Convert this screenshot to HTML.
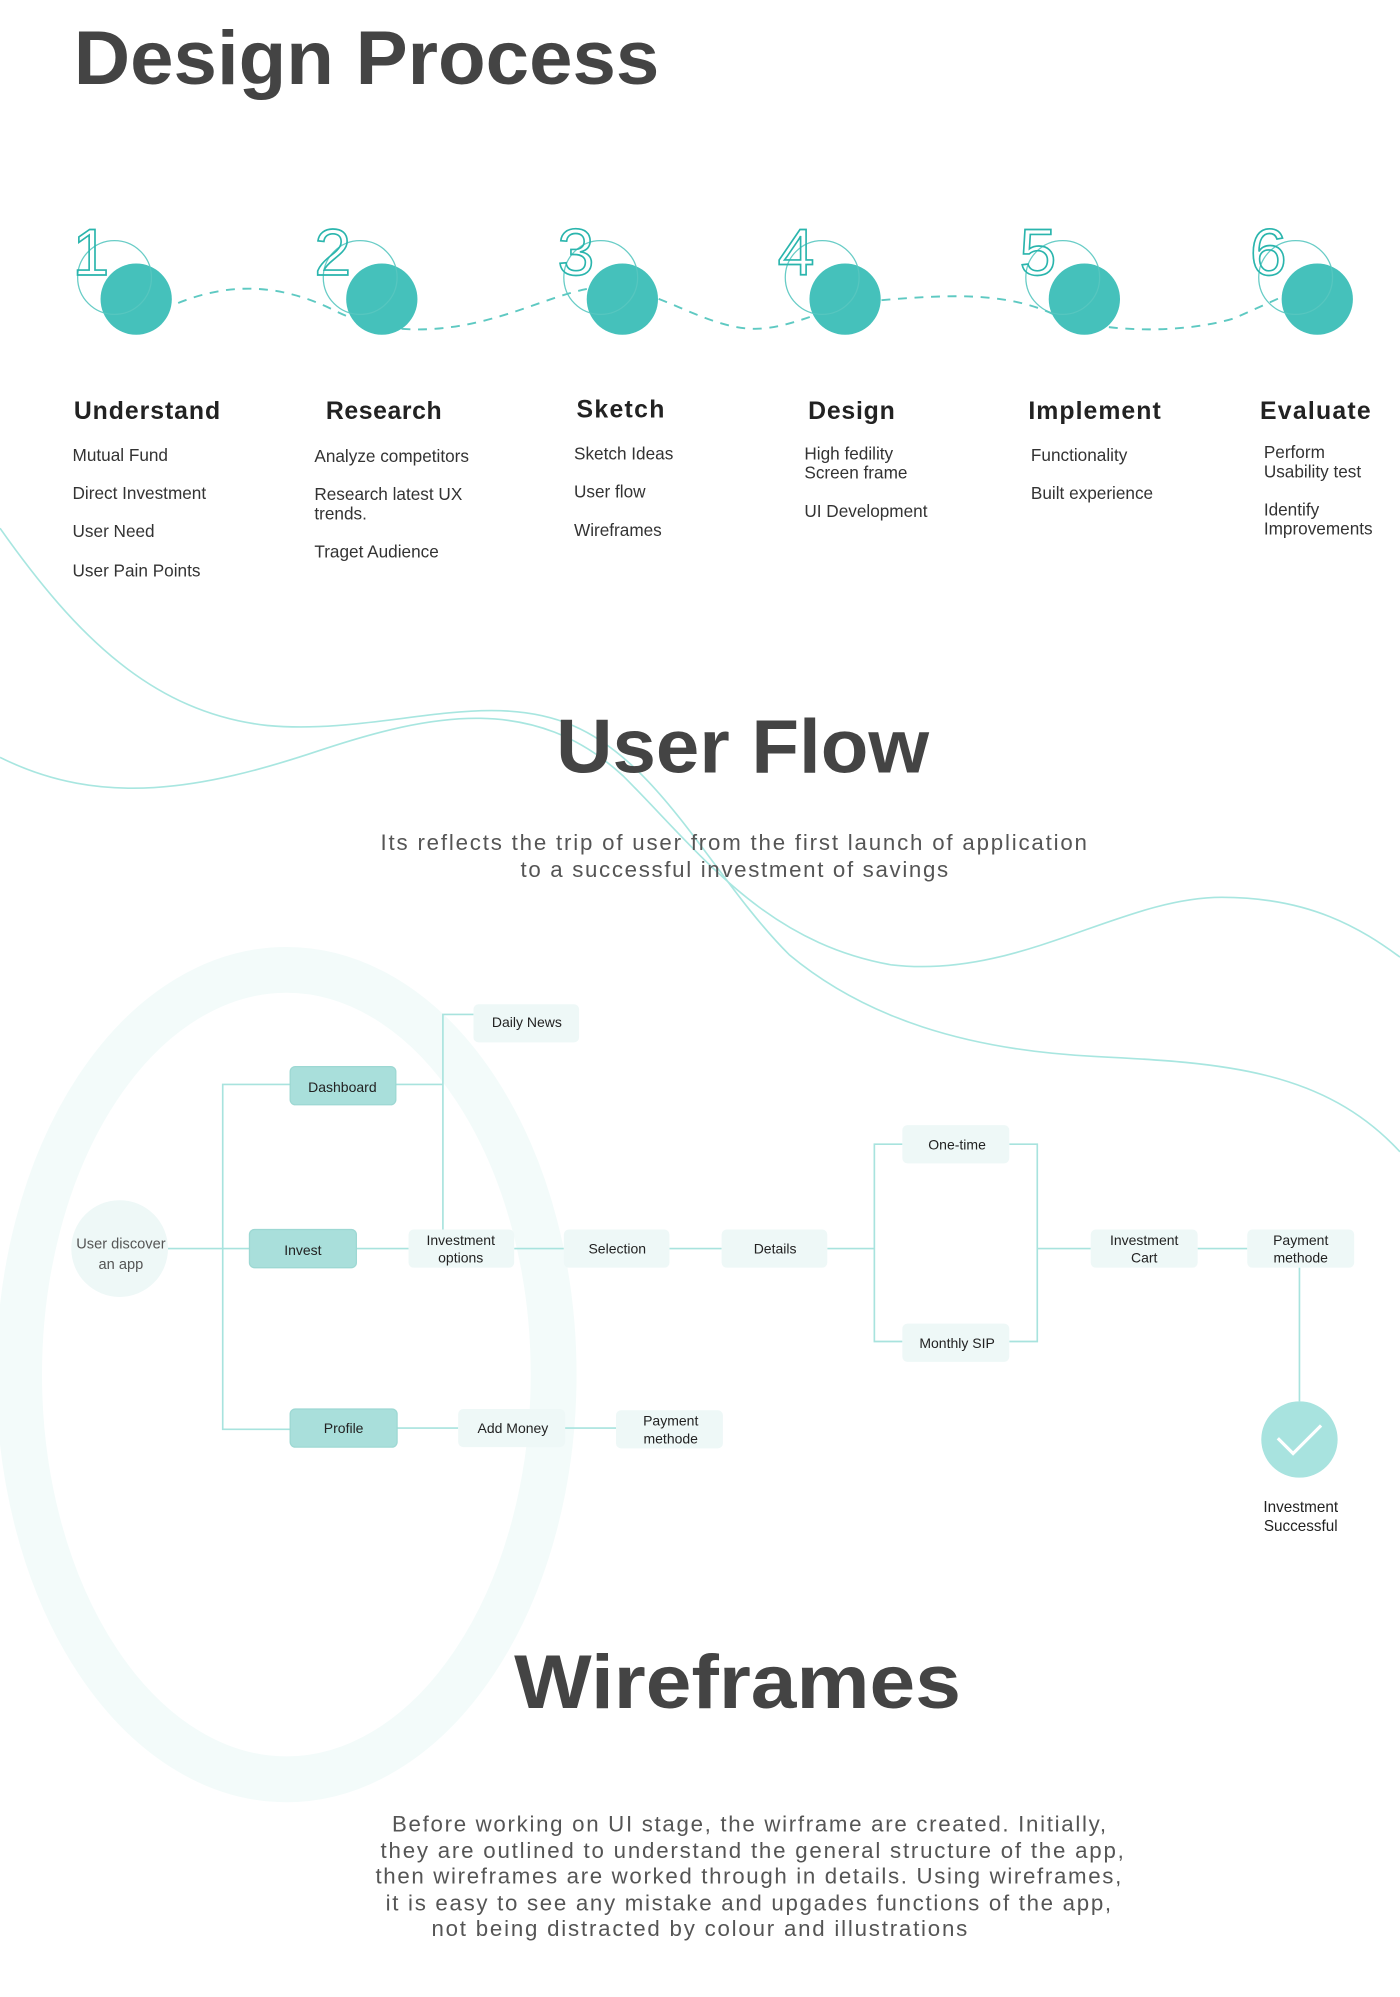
<!DOCTYPE html>
<html><head><meta charset="utf-8"><style>
html,body{margin:0;padding:0;background:#fff;}
svg{display:block;}
text{font-family:"Liberation Sans","DejaVu Sans",sans-serif;}
</style></head><body>
<svg width="1400" height="1997" viewBox="0 0 1100 1569" xmlns="http://www.w3.org/2000/svg">
<rect width="1100" height="1569" fill="#fff"/>
<ellipse cx="225" cy="1080" rx="210" ry="318" fill="none" stroke="#f3fbfa" stroke-width="36"/>
<path d="M0,415 C60,500 120,560 210,570 C300,578 380,540 450,570 C520,600 560,690 620,750 C680,800 760,825 860,830 C960,835 1040,840 1100,905" fill="none" stroke="#a8e6e0" stroke-width="1.3"/>
<path d="M0,595 C80,635 160,620 250,590 C340,560 420,545 490,610 C550,670 600,740 700,758 C800,770 880,705 960,705 C1030,705 1070,730 1100,752" fill="none" stroke="#a8e6e0" stroke-width="1.3"/>

<text x="58" y="66" font-size="60" font-weight="bold" fill="#444" textLength="460" lengthAdjust="spacingAndGlyphs">Design Process</text>

<path d="M140,238 C180,222 220,222 265,245 C300,262 340,262 380,252 C420,242 450,225 480,225 C520,228 560,262 600,258 C630,255 650,240 690,236 C740,232 790,228 830,248 C870,262 930,262 970,250 L1010,232" fill="none" stroke="#5ec9c2" stroke-width="1.5" stroke-dasharray="7 6"/>

<g fill="#45c1bb">
<circle cx="107" cy="235" r="28"/><circle cx="300" cy="235" r="28"/><circle cx="489" cy="235" r="28"/>
<circle cx="664" cy="235" r="28"/><circle cx="852" cy="235" r="28"/><circle cx="1035" cy="235" r="28"/>
</g>
<g fill="none" stroke="#58c7c0" stroke-width="1" opacity="0.9">
<circle cx="90" cy="218" r="29"/><circle cx="283" cy="218" r="29"/><circle cx="472" cy="218" r="29"/>
<circle cx="646" cy="218" r="29"/><circle cx="835" cy="218" r="29"/><circle cx="1018" cy="218" r="29"/>
</g>
<g font-size="52" fill="none" stroke="#2ab5ad" stroke-width="1.3">
<text x="57" y="216">1</text><text x="247" y="216">2</text><text x="438" y="216">3</text>
<text x="611" y="216">4</text><text x="801" y="216">5</text><text x="982" y="216">6</text>
</g>

<g font-size="19.5" font-weight="bold" fill="#222" lengthAdjust="spacingAndGlyphs">
<text x="58" y="329" textLength="115">Understand</text><text x="256" y="329" textLength="91">Research</text><text x="453" y="328" textLength="69">Sketch</text>
<text x="635" y="329" textLength="68">Design</text><text x="808" y="329" textLength="104">Implement</text><text x="990" y="329" textLength="87">Evaluate</text>
</g>
<g font-size="13.5" fill="#333">
<text x="57" y="362">Mutual Fund</text><text x="57" y="392">Direct Investment</text><text x="57" y="422">User Need</text><text x="57" y="453">User Pain Points</text>
<text x="247" y="363">Analyze competitors</text><text x="247" y="393">Research latest UX</text><text x="247" y="408">trends.</text><text x="247" y="438">Traget Audience</text>
<text x="451" y="361">Sketch Ideas</text><text x="451" y="391">User flow</text><text x="451" y="421">Wireframes</text>
<text x="632" y="361">High fedility</text><text x="632" y="376">Screen frame</text><text x="632" y="406">UI Development</text>
<text x="810" y="362">Functionality</text><text x="810" y="392">Built experience</text>
<text x="993" y="360">Perform</text><text x="993" y="375">Usability test</text><text x="993" y="405">Identify</text><text x="993" y="420">Improvements</text>
</g>

<text x="437" y="607" font-size="60" font-weight="bold" fill="#444" textLength="293" lengthAdjust="spacingAndGlyphs">User Flow</text>
<g font-size="17.5" fill="#555">
<text x="299" y="668" textLength="555">Its reflects the trip of user from the first launch of application</text>
<text x="409" y="689" textLength="336">to a successful investment of savings</text>
</g>

<g fill="none" stroke="#a8e3de" stroke-width="1.3">
<path d="M132,981 H196"/>
<path d="M228,852 H175 V1123 H228"/>
<path d="M311,852 H348"/>
<path d="M348,966 V797 H372"/>
<path d="M280,981 H321 M404,981 H443 M526,981 H567"/>
<path d="M650,981 H687 M709,899 H687 V1054 H709"/>
<path d="M793,899 H815 V1054 H793 M815,981 H857 M941,981 H980"/>
<path d="M1021,996 V1101"/>
<path d="M312,1122 H360 M444,1122 H484"/>
</g>

<circle cx="94" cy="981" r="38" fill="#eef8f7"/>
<g font-size="11.5" fill="#555" text-anchor="middle"><text x="95" y="981">User discover</text><text x="95" y="997">an app</text></g>

<g fill="#a9dfdb" stroke="#9dd8d3" stroke-width="1">
<rect x="228" y="838" width="83" height="30" rx="4"/>
<rect x="196" y="966" width="84" height="30" rx="4"/>
<rect x="228" y="1107" width="84" height="30" rx="4"/>
</g>
<g fill="#eef8f7">
<rect x="372" y="789" width="83" height="30" rx="4"/>
<rect x="321" y="966" width="83" height="30" rx="4"/>
<rect x="443" y="966" width="83" height="30" rx="4"/>
<rect x="567" y="966" width="83" height="30" rx="4"/>
<rect x="709" y="884" width="84" height="30" rx="4"/>
<rect x="709" y="1040" width="84" height="30" rx="4"/>
<rect x="857" y="966" width="84" height="30" rx="4"/>
<rect x="980" y="966" width="84" height="30" rx="4"/>
<rect x="360" y="1107" width="84" height="30" rx="4"/>
<rect x="484" y="1108" width="84" height="30" rx="4"/>
</g>
<g font-size="11" fill="#222" text-anchor="middle">
<text x="269" y="858">Dashboard</text><text x="238" y="986">Invest</text><text x="270" y="1126">Profile</text>
<text x="414" y="807">Daily News</text>
<text x="362" y="978">Investment</text><text x="362" y="992">options</text>
<text x="485" y="985">Selection</text><text x="609" y="985">Details</text>
<text x="752" y="903">One-time</text><text x="752" y="1059">Monthly SIP</text>
<text x="899" y="978">Investment</text><text x="899" y="992">Cart</text>
<text x="1022" y="978">Payment</text><text x="1022" y="992">methode</text>
<text x="403" y="1126">Add Money</text>
<text x="527" y="1120">Payment</text><text x="527" y="1134">methode</text>
</g>
<circle cx="1021" cy="1131" r="30" fill="#a8e3df"/>
<path d="M1004,1130 L1016,1142 L1038,1120" fill="none" stroke="#fff" stroke-width="2.5"/>
<g font-size="12" fill="#222" text-anchor="middle"><text x="1022" y="1188">Investment</text><text x="1022" y="1203">Successful</text></g>

<text x="404" y="1342" font-size="60" font-weight="bold" fill="#444" textLength="351" lengthAdjust="spacingAndGlyphs">Wireframes</text>
<g font-size="17.5" fill="#555">
<text x="308" y="1439" textLength="561">Before working on UI stage, the wirframe are created. Initially,</text>
<text x="299" y="1460" textLength="584">they are outlined to understand the general structure of the app,</text>
<text x="295" y="1480" textLength="586">then wireframes are worked through in details. Using wireframes,</text>
<text x="303" y="1501" textLength="570">it is easy to see any mistake and upgades functions of the app,</text>
<text x="339" y="1521" textLength="421">not being distracted by colour and illustrations</text>
</g>
</svg>
</body></html>
